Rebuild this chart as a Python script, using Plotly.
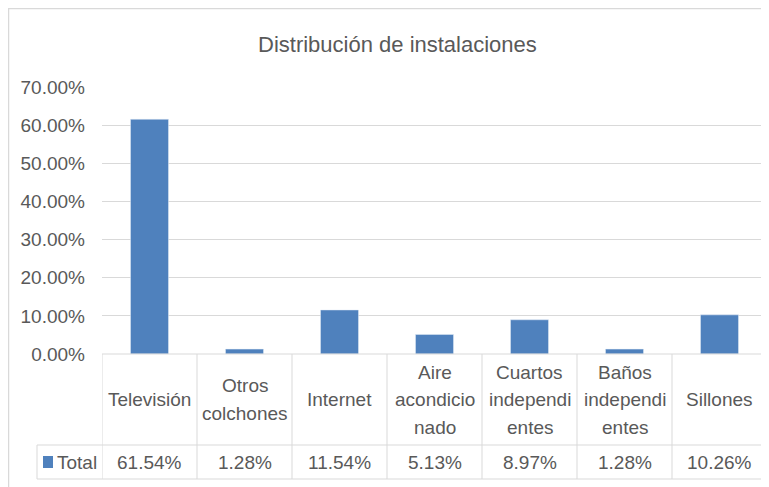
import plotly.graph_objects as go

categories = ["Televisión", "Otros colchones", "Internet", "Aire acondicionado",
              "Cuartos independientes", "Baños independientes", "Sillones"]
category_lines = [["Televisión"], ["Otros", "colchones"], ["Internet"], ["Aire", "acondicio", "nado"],
                  ["Cuartos", "independi", "entes"], ["Baños", "independi", "entes"], ["Sillones"]]
values = [0.6154, 0.0128, 0.1154, 0.0513, 0.0897, 0.0128, 0.1026]
value_labels = ["61.54%", "1.28%", "11.54%", "5.13%", "8.97%", "1.28%", "10.26%"]
series_name = "Total"
y_ticks = [0, 0.1, 0.2, 0.3, 0.4, 0.5, 0.6, 0.7]
y_tick_labels = ["0.00%", "10.00%", "20.00%", "30.00%", "40.00%", "50.00%", "60.00%", "70.00%"]

# page body has an 8px default margin; the figure starts at (8, 8) on screen
OX, OY = 8, 8
SW, SH = 769, 487
W, H = SW - OX, SH - OY
L, R, T, B = 102, 767, 87, 354          # plot area in screen pixels
FONT = "Liberation Sans, Arial, sans-serif"
TXT = "#595959"
GRID = "#D9D9D9"
BAR = "#4F81BD"
FS = 19

def px(x):
    return (x - L) / (R - L)

def py(y):
    return (B - y) / (B - T)

fig = go.Figure(go.Bar(x=categories, y=values, marker_color=BAR, width=0.4, name=series_name))

shapes = []
annotations = []

# outer chart border
shapes.append(dict(type="rect", xref="paper", yref="paper", x0=px(8.5), x1=px(775), y0=py(495), y1=py(8.5),
                   line=dict(color="#D9D9D9", width=1.5), fillcolor="rgba(0,0,0,0)", layer="below"))

row_cat_bot = 445
row_val_bot = 479
tbl_left = 37
for yy in (row_cat_bot, row_val_bot):
    shapes.append(dict(type="line", xref="paper", yref="paper", x0=px(tbl_left), x1=px(R), y0=py(yy), y1=py(yy),
                       line=dict(color=GRID, width=1)))
shapes.append(dict(type="line", xref="paper", yref="paper", x0=px(tbl_left), x1=px(tbl_left),
                   y0=py(row_cat_bot), y1=py(row_val_bot), line=dict(color=GRID, width=1)))
for i in range(len(categories) + 1):
    shapes.append(dict(type="line", xref="x", yref="paper", x0=i - 0.5, x1=i - 0.5,
                       y0=py(B), y1=py(row_val_bot), line=dict(color=GRID, width=1)))
shapes.append(dict(type="line", xref="paper", yref="paper", x0=px(L), x1=px(R), y0=py(B), y1=py(B),
                   line=dict(color=GRID, width=1)))

# category labels, one annotation per line
LINE_H = 27.5
row_mid = (B + row_cat_bot) / 2
for cat, lines in zip(categories, category_lines):
    n = len(lines)
    for k, ln in enumerate(lines):
        yc = row_mid + (k - (n - 1) / 2) * LINE_H
        annotations.append(dict(x=cat, xref="x", y=py(yc), yref="paper", text=ln,
                                showarrow=False, font=dict(family=FONT, size=FS, color=TXT),
                                xanchor="center", yanchor="middle"))
# value labels
val_mid = (row_cat_bot + row_val_bot) / 2 + 1
for cat, lab in zip(categories, value_labels):
    annotations.append(dict(x=cat, xref="x", y=py(val_mid), yref="paper", text=lab,
                            showarrow=False, font=dict(family=FONT, size=FS, color=TXT),
                            xanchor="center", yanchor="middle"))
# legend key
shapes.append(dict(type="rect", xref="paper", yref="paper", x0=px(43), x1=px(53), y0=py(468), y1=py(456),
                   fillcolor=BAR, line=dict(width=0)))
annotations.append(dict(x=px(55), xref="paper", y=py(val_mid), yref="paper",
                        text=series_name, showarrow=False, font=dict(family=FONT, size=FS, color=TXT),
                        xanchor="left", yanchor="middle"))
# title
annotations.append(dict(x=px(397), xref="paper", y=py(44), yref="paper", text="Distribución de instalaciones",
                        showarrow=False, font=dict(family=FONT, size=22, color=TXT),
                        xanchor="center", yanchor="middle"))

fig.update_layout(
    width=W, height=H,
    margin=dict(l=L - OX, r=SW - R, t=T - OY, b=SH - B, pad=0),
    paper_bgcolor="white", plot_bgcolor="white",
    showlegend=False,
    xaxis=dict(showticklabels=False, showgrid=False, zeroline=False, range=[-0.5, len(categories) - 0.5]),
    yaxis=dict(range=[0, 0.7], tickvals=y_ticks, ticktext=y_tick_labels, showgrid=True, gridcolor=GRID,
               gridwidth=1, zeroline=False, tickfont=dict(family=FONT, size=FS, color=TXT),
               ticklabelstandoff=16),
    shapes=shapes, annotations=annotations,
)

fig.write_html("out.html")
